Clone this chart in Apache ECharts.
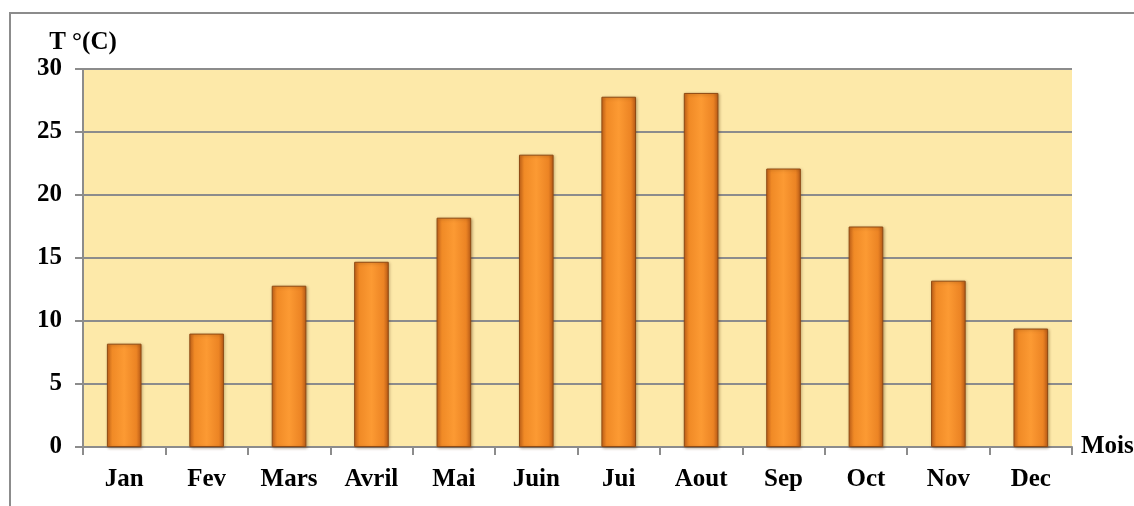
<!DOCTYPE html>
<html>
<head>
<meta charset="utf-8">
<script src="https://cdn.jsdelivr.net/npm/echarts@6/dist/echarts.min.js"></script>
<style>
  html, body { margin: 0; padding: 0; background: #fff; }
  #chart { width: 1134px; height: 506px; }
</style>
</head>
<body>
<div id="chart"></div>
<script>
// mois et températures moyennes
const mois = ['Jan', 'Fev', 'Mars', 'Avril', 'Mai', 'Juin', 'Jui', 'Aout', 'Sep', 'Oct', 'Nov', 'Dec'];
const temperatures = [8.2, 9.0, 12.8, 14.7, 18.2, 23.2, 27.8, 28.1, 22.1, 17.5, 13.2, 9.4];
const yTicks = [0, 5, 10, 15, 20, 25, 30];

const fontFam = '"Liberation Serif", "DejaVu Serif", serif';
const grey = '#8c8c8c';

const chart = echarts.init(document.getElementById('chart'));

chart.setOption({
  animation: false,
  backgroundColor: '#fff',
  graphic: [{
    type: 'polyline',
    shape: { points: [[10, 506], [10, 13], [1134, 13]] },
    style: { stroke: grey, lineWidth: 2, fill: null }
  }],
  grid: {
    left: 83,
    right: 62,
    top: 69,
    bottom: 59,
    outerBoundsMode: 'none',
    containLabel: false,
    show: true,
    backgroundColor: '#fde9a9',
    borderWidth: 0
  },
  xAxis: {
    type: 'category',
    data: mois,
    name: 'Mois',
    nameLocation: 'end',
    nameGap: 9,
    nameTextStyle: {
      fontFamily: fontFam, fontWeight: 'bold', fontSize: 25, color: '#000',
      verticalAlign: 'middle', padding: [6, 0, 0, 0]
    },
    axisLine: { lineStyle: { color: grey, width: 2 } },
    axisTick: { show: true, length: 8, lineStyle: { color: grey, width: 2 } },
    axisLabel: {
      margin: 20,
      fontFamily: fontFam, fontWeight: 'bold', fontSize: 25, color: '#000'
    }
  },
  yAxis: {
    type: 'value',
    min: 0,
    max: 30,
    interval: 5,
    name: 'T °(C)',
    nameLocation: 'end',
    nameGap: 14,
    nameTextStyle: {
      fontFamily: fontFam, fontWeight: 'bold', fontSize: 25, color: '#000',
      align: 'center'
    },
    axisLine: { show: true, lineStyle: { color: grey, width: 2 } },
    axisTick: { show: true, length: 8, lineStyle: { color: grey, width: 2 } },
    splitLine: { show: true, lineStyle: { color: grey, width: 2 } },
    axisLabel: {
      margin: 21,
      fontFamily: fontFam, fontWeight: 'bold', fontSize: 25, color: '#000',
      formatter: function (v) { return yTicks.indexOf(v) >= 0 ? String(v) : ''; }
    }
  },
  series: [{
    type: 'bar',
    data: temperatures,
    barWidth: '42%',
    itemStyle: {
      color: new echarts.graphic.LinearGradient(0, 0, 1, 0, [
        { offset: 0, color: '#c9651a' },
        { offset: 0.15, color: '#f08a26' },
        { offset: 0.5, color: '#fc9a33' },
        { offset: 0.85, color: '#ec8424' },
        { offset: 1, color: '#b85a16' }
      ]),
      borderColor: '#8e4a14',
      borderWidth: 1,
      shadowColor: 'rgba(80,40,0,0.35)',
      shadowBlur: 3,
      shadowOffsetX: 1,
      shadowOffsetY: 1
    }
  }]
});
</script>
</body>
</html>
